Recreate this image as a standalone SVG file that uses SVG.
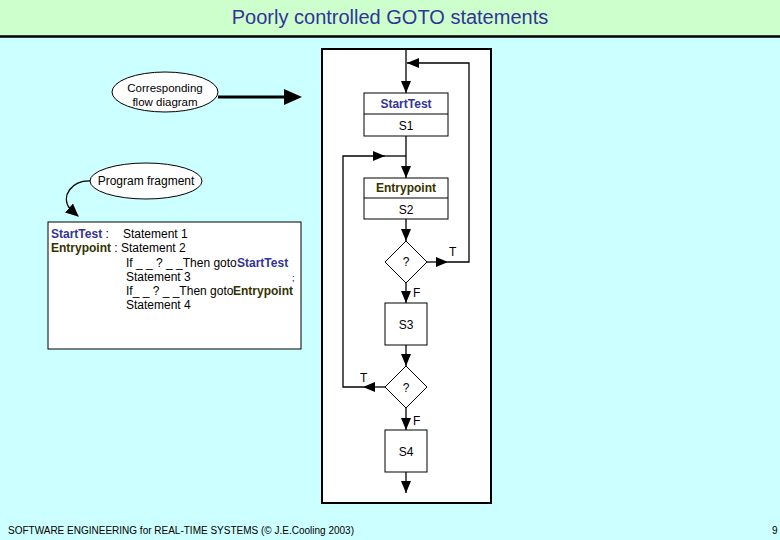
<svg xmlns="http://www.w3.org/2000/svg" width="780" height="540" viewBox="0 0 780 540">
<defs>
<style>
text{font-family:"Liberation Sans",Arial,sans-serif;fill:#000}
.t12{font-size:12px}
.c{text-anchor:middle}
.blue{fill:#333399;font-weight:bold}
.olive{fill:#333300;font-weight:bold}
.ln{stroke:#000;stroke-width:1.3;fill:none}
.box{fill:#fff;stroke:#000;stroke-width:1}
</style>
<marker id="ah" markerUnits="userSpaceOnUse" markerWidth="12" markerHeight="10" refX="12" refY="5" orient="auto">
<path d="M0,0 L12,5 L0,10 z" fill="#000"/>
</marker>
<marker id="ah2" markerUnits="userSpaceOnUse" markerWidth="14" markerHeight="12" refX="12" refY="6" orient="auto">
<path d="M0,0 L13,6 L0,12 z" fill="#000"/>
</marker>
</defs>
<rect x="0" y="0" width="780" height="540" fill="#CCFFFF"/>
<rect x="0" y="0" width="780" height="36" fill="#CCFFCC"/>
<line x1="0" y1="36.5" x2="780" y2="36.5" stroke="#000" stroke-width="2.5"/>
<text x="390" y="24" class="c" style="font-size:20px;fill:#333399">Poorly controlled GOTO statements</text>

<g id="frame"><rect x="322" y="49" width="169" height="454" fill="#fff" stroke="#000" stroke-width="2"/></g>

<g id="connectors">
<line class="ln" x1="406" y1="49" x2="406" y2="93" marker-end="url(#ah)"/>
<line class="ln" x1="406" y1="136" x2="406" y2="178" marker-end="url(#ah)"/>
<line class="ln" x1="406" y1="219" x2="406" y2="241" marker-end="url(#ah)"/>
<line class="ln" x1="406" y1="283" x2="406" y2="303" marker-end="url(#ah)"/>
<line class="ln" x1="406" y1="345" x2="406" y2="366" marker-end="url(#ah)"/>
<line class="ln" x1="406" y1="408" x2="406" y2="430" marker-end="url(#ah)"/>
<line class="ln" x1="406" y1="472" x2="406" y2="493" marker-end="url(#ah)"/>
<line class="ln" x1="427" y1="262" x2="448" y2="262" marker-end="url(#ah)"/>
<path class="ln" d="M448,262 H469 V63 H407" marker-end="url(#ah)"/>
<line class="ln" x1="385" y1="387" x2="363" y2="387" marker-end="url(#ah)"/>
<path class="ln" d="M363,387 H343 V156 H385" marker-end="url(#ah)"/>
<line class="ln" x1="385" y1="156" x2="406" y2="156"/>
<line x1="218" y1="97" x2="286" y2="97" stroke="#000" stroke-width="3"/>
<polygon points="284,89 302,97 284,105" fill="#000"/>
<path class="ln" d="M91,181 C72,180 60,196 70,209 L78,216" marker-end="url(#ah2)"/>
<text x="449" y="256" class="t12">T</text>
<text x="413" y="297" class="t12">F</text>
<text x="360" y="382" class="t12">T</text>
<text x="413" y="425" class="t12">F</text>
</g>

<g id="starttest">
<rect class="box" x="364" y="93" width="84" height="43"/>
<line x1="364" y1="114" x2="448" y2="114" stroke="#000"/>
<text x="406" y="108" class="t12 c blue">StartTest</text>
<text x="406" y="130" class="t12 c">S1</text>
</g>
<g id="entrypoint">
<rect class="box" x="364" y="178" width="84" height="41"/>
<line x1="364" y1="198" x2="448" y2="198" stroke="#000"/>
<text x="406" y="192" class="t12 c olive">Entrypoint</text>
<text x="406" y="214" class="t12 c">S2</text>
</g>
<g id="decision1">
<polygon class="box" points="406,241 427,262 406,283 385,262"/>
<text x="406" y="266" class="t12 c">?</text>
</g>
<g id="s3">
<rect class="box" x="385" y="303" width="42" height="42"/>
<text x="406" y="329" class="t12 c">S3</text>
</g>
<g id="decision2">
<polygon class="box" points="406,366 427,387 406,408 385,387"/>
<text x="406" y="392" class="t12 c">?</text>
</g>
<g id="s4">
<rect class="box" x="385" y="430" width="42" height="42"/>
<text x="406" y="456" class="t12 c">S4</text>
</g>

<g id="flow-label">
<ellipse cx="165" cy="92" rx="53" ry="20" class="box"/>
<text x="165" y="92" class="c" style="font-size:11.5px">Corresponding</text>
<text x="165" y="106" class="c" style="font-size:11.5px">flow diagram</text>
</g>
<g id="program-label">
<ellipse cx="146" cy="181" rx="56" ry="18" class="box"/>
<text x="146" y="185" class="t12 c">Program fragment</text>
</g>

<g id="code">
<rect class="box" x="48" y="222" width="253" height="127"/>
<text x="51" y="238" class="t12"><tspan class="blue">StartTest</tspan> :</text>
<text x="123" y="238" class="t12">Statement 1</text>
<text x="51" y="252" class="t12"><tspan class="olive">Entrypoint</tspan> : Statement 2</text>
<text x="126" y="267" class="t12">If _ _ ? _ _Then goto</text>
<text x="237" y="267" class="t12 blue">StartTest</text>
<text x="126" y="281" class="t12">Statement 3</text>
<text x="292" y="281" class="t12" style="font-size:9px">;</text>
<text x="126" y="295" class="t12">If_ _ ? _ _Then goto</text>
<text x="233" y="295" class="t12 olive">Entrypoint</text>
<text x="126" y="309" class="t12">Statement 4</text>
</g>

<text x="8" y="534" style="font-size:10px">SOFTWARE ENGINEERING for REAL-TIME SYSTEMS (© J.E.Cooling 2003)</text>
<text x="772" y="534" style="font-size:10px">9</text>
</svg>
